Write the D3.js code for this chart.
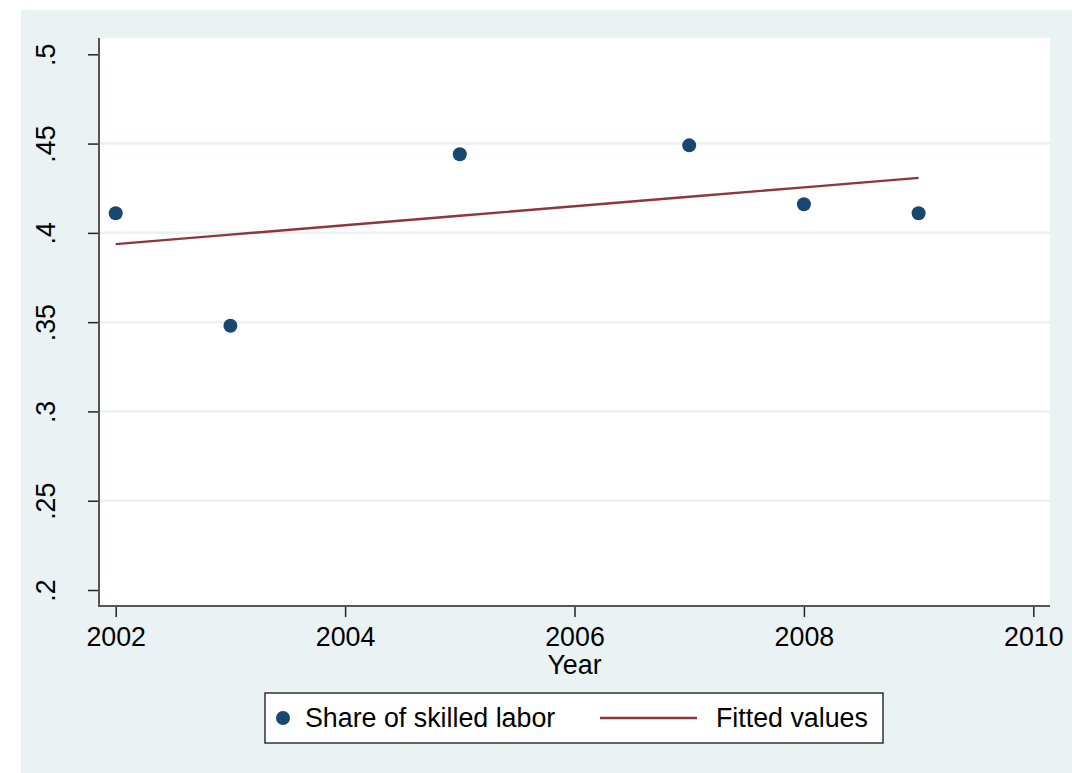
<!DOCTYPE html>
<html>
<head>
<meta charset="utf-8">
<script src="https://cdn.jsdelivr.net/npm/d3@7"></script>
<style>
  html, body { margin: 0; padding: 0; background: #ffffff; }
  svg { display: block; }
  text { font-family: "Liberation Sans", Arial, sans-serif; fill: #000; }
</style>
</head>
<body>
<svg id="chart" width="1072" height="773"></svg>
<script>
// Share of skilled labor by year, with linear fitted values
const years = [2002, 2003, 2005, 2007, 2008, 2009];
const skilledShare = [0.411, 0.348, 0.444, 0.449, 0.416, 0.411];
const fittedValues = [0.3937, 0.3990, 0.4096, 0.4202, 0.4255, 0.4308];
const yTicks = [0.2, 0.25, 0.3, 0.35, 0.4, 0.45, 0.5];
const yTickLabels = [".2", ".25", ".3", ".35", ".4", ".45", ".5"];
const xTicks = [2002, 2004, 2006, 2008, 2010];
const seriesNames = ["Share of skilled labor", "Fitted values"];
const xTitle = "Year";

const svg = d3.select("#chart");
const W = 1072, H = 773;
const fontSize = "26.8px";

const colors = { bg: "#eaf2f3", marker: "#1a476f", line: "#90353b", axis: "#555555" };

// Outer graph region
svg.append("rect").attr("x", 21).attr("y", 10).attr("width", W - 21).attr("height", H - 10)
  .attr("fill", colors.bg);

const plot = { left: 99, top: 38, right: 1050, bottom: 606 };

// Plot region
svg.append("rect").attr("x", plot.left).attr("y", plot.top)
  .attr("width", plot.right - plot.left).attr("height", plot.bottom - plot.top)
  .attr("fill", "#ffffff");

const x = d3.scaleLinear().domain([2002, 2010]).range([115.7, 1033.3]);
const y = d3.scaleLinear().domain([0.2, 0.5]).range([590, 54.3]);

// Horizontal gridlines (interior ticks only)
svg.append("g").selectAll("line")
  .data(yTicks.filter(t => t > 0.2 + 1e-9 && t < 0.5 - 1e-9))
  .join("line")
  .attr("x1", plot.left).attr("x2", plot.right)
  .attr("y1", d => y(d)).attr("y2", d => y(d))
  .attr("stroke", colors.bg).attr("stroke-width", 2.5);

// Y axis
const yAxis = d3.axisLeft(y).tickValues(yTicks)
  .tickFormat((d, i) => yTickLabels[i]).tickSize(11).tickPadding(0);
const gy = svg.append("g").attr("transform", `translate(${plot.left},0)`).call(yAxis);
gy.select(".domain").remove();
gy.selectAll(".tick line").attr("stroke", "#222").attr("stroke-width", 1.5);
gy.selectAll(".tick text")
  .attr("x", 0).attr("y", 0).attr("dy", 0)
  .attr("transform", "translate(-44,0) rotate(-90)")
  .attr("text-anchor", "middle")
  .style("font-size", fontSize)
  .style("font-family", "'Liberation Sans', Arial, sans-serif");

// X axis
const xAxis = d3.axisBottom(x).tickValues(xTicks).tickFormat(d3.format("d"))
  .tickSize(11).tickPadding(0);
const gx = svg.append("g").attr("transform", `translate(0,${plot.bottom})`).call(xAxis);
gx.select(".domain").remove();
gx.selectAll(".tick line").attr("stroke", "#222").attr("stroke-width", 1.5);
gx.selectAll(".tick text")
  .attr("y", 40).attr("dy", 0)
  .style("font-size", fontSize)
  .style("font-family", "'Liberation Sans', Arial, sans-serif");

// Axis lines
svg.append("line").attr("x1", plot.left).attr("x2", plot.left)
  .attr("y1", plot.top).attr("y2", plot.bottom + 1)
  .attr("stroke", colors.axis).attr("stroke-width", 2);
svg.append("line").attr("x1", plot.left - 1).attr("x2", plot.right)
  .attr("y1", plot.bottom).attr("y2", plot.bottom)
  .attr("stroke", colors.axis).attr("stroke-width", 2);

// X axis title
svg.append("text").attr("x", (x(2006))).attr("y", 674)
  .attr("text-anchor", "middle").style("font-size", fontSize).text(xTitle);

// Fitted line
const line = d3.line().x((d, i) => x(years[i])).y(d => y(d));
svg.append("path").datum(fittedValues)
  .attr("d", line).attr("fill", "none")
  .attr("stroke", colors.line).attr("stroke-width", 2.4);

// Scatter points
svg.append("g").selectAll("circle")
  .data(skilledShare)
  .join("circle")
  .attr("cx", (d, i) => x(years[i])).attr("cy", d => y(d))
  .attr("r", 7).attr("fill", colors.marker);

// Legend
const lg = svg.append("g");
lg.append("rect").attr("x", 265).attr("y", 693).attr("width", 618).attr("height", 50)
  .attr("fill", "#fff").attr("stroke", "#333").attr("stroke-width", 1.5);
lg.append("circle").attr("cx", 283).attr("cy", 718).attr("r", 7).attr("fill", colors.marker);
lg.append("text").attr("x", 305).attr("y", 727).style("font-size", fontSize).text(seriesNames[0]);
lg.append("line").attr("x1", 600).attr("x2", 697).attr("y1", 718).attr("y2", 718)
  .attr("stroke", colors.line).attr("stroke-width", 2.4);
lg.append("text").attr("x", 716).attr("y", 727).style("font-size", fontSize).text(seriesNames[1]);
</script>
</body>
</html>
